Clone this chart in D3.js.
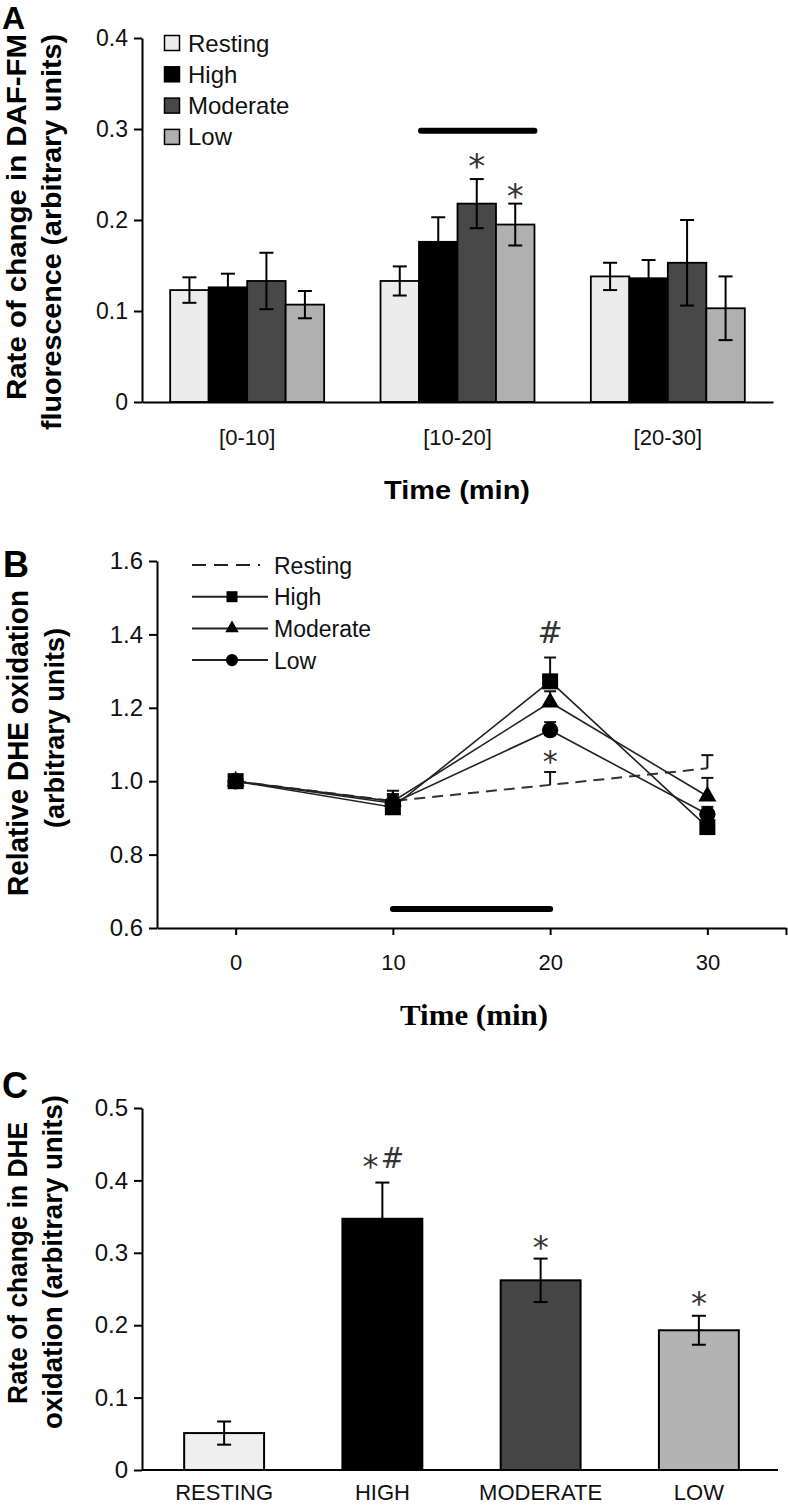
<!DOCTYPE html>
<html><head><meta charset="utf-8">
<script src="https://cdn.jsdelivr.net/npm/d3@7"></script>
<style>
html,body{margin:0;padding:0;background:#fff;}
svg{display:block;}
</style></head>
<body>
<script>
// ---------- DATA ----------
const seriesNames = ["Resting","High","Moderate","Low"];
// Panel A
const groupsA = ["[0-10]","[10-20]","[20-30]"];
const restingA = [0.123, 0.133, 0.138];
const highA = [0.126, 0.176, 0.136];
const moderateA = [0.133, 0.218, 0.153];
const lowA = [0.107, 0.195, 0.103];
const errRestingA = [0.014, 0.016, 0.015];
const errHighA = [0.015, 0.027, 0.020];
const errModerateA = [0.031, 0.027, 0.047];
const errLowA = [0.015, 0.023, 0.035];
const ticksA = [0, 0.1, 0.2, 0.3, 0.4];
const starsA = [{group:"[10-20]", series:"Moderate", label:"*", y:0.269},
                {group:"[10-20]", series:"Low", label:"*", y:0.236}];
const sigBarA = {group:"[10-20]", from:"High", to:"Low", y:0.298};
// Panel B
const timesB = [0, 10, 20, 30];
const restingB = [1.0, 0.946, 0.99, 1.035];
const highB = [1.0, 0.929, 1.272, 0.875];
const moderateB = [1.0, 0.945, 1.215, 0.959];
const lowB = [1.0, 0.940, 1.139, 0.910];
const errRestingB = [0, 0.028, 0.035, 0.036];
const errHighB = [0, 0.02, 0.065, 0.02];
const errModerateB = [0, 0.02, 0.03, 0.05];
const errLowB = [0, 0.02, 0.022, 0.02];
const ticksBy = [0.6, 0.8, 1.0, 1.2, 1.4, 1.6];
const ticksBx = [0, 10, 20, 30, 35];
const annotB = [{t:20, label:"#", y:1.406}, {t:20, label:"*", y:1.074}];
const sigBarB = {from:10, to:20, y:0.652};
// Panel C
const catsC = ["RESTING","HIGH","MODERATE","LOW"];
const valuesC = [0.051, 0.347, 0.262, 0.193];
const errC = [0.016, 0.050, 0.030, 0.020];
const ticksC = [0, 0.1, 0.2, 0.3, 0.4, 0.5];
const annotC = [{cat:"HIGH", label:"*", dx:-12, y:0.431},{cat:"HIGH", label:"#", dx:10, y:0.431},
                {cat:"MODERATE", label:"*", dx:0, y:0.32},{cat:"LOW", label:"*", dx:0, y:0.242}];

// ---------- STYLE ----------
const SANS = "'Liberation Sans', Arial, sans-serif";
const SERIF = "'Liberation Serif', 'Times New Roman', serif";
const SYM = "'DejaVu Sans', sans-serif";
const colA = {Resting:"#ececec", High:"#000000", Moderate:"#484848", Low:"#b0b0b0"};
const colC = {RESTING:"#efefef", HIGH:"#000000", MODERATE:"#454545", LOW:"#b3b3b3"};

const svg = d3.select("body").append("svg").attr("width",788).attr("height",1505);
svg.append("rect").attr("width",788).attr("height",1505).attr("fill","#fff");

function styleAxis(g, fs, sx){
  g.selectAll("path,line").attr("stroke","#000").attr("stroke-width",2);
  g.selectAll("text").attr("font-size",fs).attr("font-family",SANS).attr("fill","#111");
}
function vTitle(x, y, txt, fs, len, fam){
  svg.append("text").attr("transform",`translate(${x},${y}) rotate(-90)`)
    .attr("text-anchor","middle").attr("font-family",fam||SANS).attr("font-weight","bold")
    .attr("font-size",fs).attr("textLength",len).attr("lengthAdjust","spacingAndGlyphs")
    .attr("fill","#000").text(txt);
}
// symbol placement: y value is visual centre
function symText(x, yc, label, fs){
  const off = label==="*" ? 0.6*fs : 0.36*fs;
  svg.append("text").attr("x",x).attr("y",yc+off).attr("text-anchor","middle")
    .attr("font-family",SYM).attr("font-size",fs).attr("fill","#333").text(label);
}

// ================= PANEL A =================
const yA = d3.scaleLinear().domain([0,0.4]).range([402,38]);
const xA = d3.scaleBand().domain(groupsA).range([142,773]).paddingInner(0.268).paddingOuter(0.134);
const xAin = d3.scaleBand().domain(seriesNames).range([0,xA.bandwidth()]);
const valsA = {Resting:restingA, High:highA, Moderate:moderateA, Low:lowA};
const errsA = {Resting:errRestingA, High:errHighA, Moderate:errModerateA, Low:errLowA};
const dataA = [];
groupsA.forEach((g,i)=>seriesNames.forEach(s=>dataA.push({g, s, v:valsA[s][i], e:errsA[s][i]})));

const gA = svg.append("g");
gA.selectAll("rect.bar").data(dataA).join("rect")
  .attr("x",d=>xA(d.g)+xAin(d.s)).attr("y",d=>yA(d.v))
  .attr("width",xAin.bandwidth()).attr("height",d=>yA(0)-yA(d.v))
  .attr("fill",d=>colA[d.s]).attr("stroke","#000").attr("stroke-width",1.8);
const cxA = d=>xA(d.g)+xAin(d.s)+xAin.bandwidth()/2;
const ebA = gA.selectAll("g.eb").data(dataA).join("g");
ebA.append("line").attr("x1",cxA).attr("x2",cxA).attr("y1",d=>yA(d.v-d.e)).attr("y2",d=>yA(d.v+d.e));
ebA.append("line").attr("x1",d=>cxA(d)-7).attr("x2",d=>cxA(d)+7).attr("y1",d=>yA(d.v+d.e)).attr("y2",d=>yA(d.v+d.e));
ebA.append("line").attr("x1",d=>cxA(d)-7).attr("x2",d=>cxA(d)+7).attr("y1",d=>yA(d.v-d.e)).attr("y2",d=>yA(d.v-d.e));
ebA.selectAll("line").attr("stroke","#000").attr("stroke-width",2);

gA.append("line").attr("x1",xA(sigBarA.group)+xAin(sigBarA.from)+2).attr("x2",xA(sigBarA.group)+xAin(sigBarA.to)+xAin.bandwidth())
  .attr("y1",yA(sigBarA.y)).attr("y2",yA(sigBarA.y)).attr("stroke","#000").attr("stroke-width",6).attr("stroke-linecap","round");
starsA.forEach(a=>symText(xA(a.group)+xAin(a.series)+xAin.bandwidth()/2, yA(a.y), a.label, 34));

const axAy = svg.append("g").attr("transform","translate(142,0)")
  .call(d3.axisLeft(yA).tickValues(ticksA).tickFormat(d=>d===0?"0":d3.format(".1f")(d)).tickSize(8).tickSizeOuter(0).tickPadding(6));
styleAxis(axAy, 23);
const axAx = svg.append("g").attr("transform","translate(0,402)")
  .call(d3.axisBottom(xA).tickSize(0).tickSizeOuter(0).tickPadding(27));
styleAxis(axAx, 22);

const legA = svg.append("g");
seriesNames.forEach((s,i)=>{
  const cy = 43 + i*31.3;
  legA.append("rect").attr("x",164.5).attr("y",cy-7.5).attr("width",15).attr("height",15)
    .attr("fill",colA[s]).attr("stroke","#000").attr("stroke-width",1.5);
  legA.append("text").attr("x",188).attr("y",cy+8.5).attr("font-family",SANS).attr("font-size",24).attr("fill","#111").text(s);
});
svg.append("text").attr("x",457).attr("y",499).attr("text-anchor","middle").attr("font-family",SANS)
  .attr("font-weight","bold").attr("font-size",26).attr("textLength",146).attr("lengthAdjust","spacingAndGlyphs").text("Time (min)");
vTitle(26, 217, "Rate of change in DAF-FM", 28, 366);
vTitle(61, 232, "fluorescence (arbitrary units)", 28, 396);
svg.append("text").attr("x",2).attr("y",29).attr("font-family",SANS).attr("font-weight","bold").attr("font-size",32).text("A");

// ================= PANEL B =================
const xB = d3.scaleLinear().domain([-5,35]).range([157,786]);
const yB = d3.scaleLinear().domain([0.6,1.6]).range([928,561]);
const seriesB = [
  {name:"Resting", v:restingB, e:errRestingB, dash:true},
  {name:"High", v:highB, e:errHighB, sym:d3.symbolSquare, size:256, lsize:121},
  {name:"Moderate", v:moderateB, e:errModerateB, sym:d3.symbolTriangle, size:140, lsize:80},
  {name:"Low", v:lowB, e:errLowB, sym:d3.symbolCircle, size:210, lsize:115}
];
const lineB = d3.line().x(d=>xB(d[0])).y(d=>yB(d[1]));
const gB = svg.append("g");
gB.append("line").attr("x1",xB(sigBarB.from)).attr("x2",xB(sigBarB.to)).attr("y1",yB(sigBarB.y)).attr("y2",yB(sigBarB.y))
  .attr("stroke","#000").attr("stroke-width",6).attr("stroke-linecap","round");
seriesB.forEach(s=>{
  const pts = timesB.map((t,i)=>[t,s.v[i]]);
  gB.append("path").attr("d",lineB(pts)).attr("fill","none")
    .attr("stroke",s.dash?"#333":"#222").attr("stroke-width",s.dash?2:1.6)
    .attr("stroke-dasharray",s.dash?"11,7":null);
});
seriesB.forEach(s=>{
  timesB.forEach((t,i)=>{
    if(!s.e[i]) return;
    const x = xB(t), y0 = yB(s.v[i]), y1 = yB(s.v[i]+s.e[i]);
    gB.append("line").attr("x1",x).attr("x2",x).attr("y1",y0).attr("y2",y1).attr("stroke","#111").attr("stroke-width",2);
    gB.append("line").attr("x1",x-6).attr("x2",x+6).attr("y1",y1).attr("y2",y1).attr("stroke","#111").attr("stroke-width",2);
  });
});
[seriesB[3], seriesB[2], seriesB[1]].forEach(s=>{
  gB.selectAll(null).data(timesB.map((t,i)=>[t,s.v[i]])).join("path")
    .attr("d",d3.symbol().type(s.sym).size(s.size)())
    .attr("transform",d=>`translate(${xB(d[0])},${yB(d[1])})`).attr("fill","#000");
});
annotB.forEach(a=>symText(xB(a.t), yB(a.y), a.label, 30));

const axBy = svg.append("g").attr("transform","translate(157,0)")
  .call(d3.axisLeft(yB).tickValues(ticksBy).tickFormat(d3.format(".1f")).tickSize(8).tickSizeOuter(0).tickPadding(6));
styleAxis(axBy, 24);
const axBx = svg.append("g").attr("transform","translate(0,928)")
  .call(d3.axisBottom(xB).tickValues(ticksBx).tickFormat(d=>d===35?"":d).tickSize(7).tickSizeOuter(0).tickPadding(19));
styleAxis(axBx, 22);
const legB = svg.append("g");
seriesB.forEach((s,i)=>{
  const cy = 565 + i*31.7;
  legB.append("line").attr("x1",192).attr("x2",s.dash?260:268).attr("y1",cy).attr("y2",cy)
    .attr("stroke","#222").attr("stroke-width",2).attr("stroke-dasharray",s.dash?"14,8":null);
  if(s.sym) legB.append("path").attr("d",d3.symbol().type(s.sym).size(s.lsize)()).attr("transform",`translate(232,${cy})`).attr("fill","#000");
  legB.append("text").attr("x",274).attr("y",cy+8.5).attr("font-family",SANS).attr("font-size",23).attr("fill","#111").text(s.name);
});
svg.append("text").attr("x",474).attr("y",1025).attr("text-anchor","middle").attr("font-family",SERIF)
  .attr("font-weight","bold").attr("font-size",30).attr("textLength",148).attr("lengthAdjust","spacingAndGlyphs").text("Time (min)");
vTitle(28, 743, "Relative DHE oxidation", 29, 306);
vTitle(64, 728, "(arbitrary units)", 28, 200);
svg.append("text").attr("x",3).attr("y",577).attr("font-family",SANS).attr("font-weight","bold").attr("font-size",36).text("B");

// ================= PANEL C =================
const yC = d3.scaleLinear().domain([0,0.5]).range([1470,1108]);
const xC = d3.scaleBand().domain(catsC).range([145,778]).paddingInner(0.495).paddingOuter(0.2475);
const dataC = catsC.map((c,i)=>({c, v:valuesC[i], e:errC[i]}));
const gC = svg.append("g");
gC.selectAll("rect").data(dataC).join("rect")
  .attr("x",d=>xC(d.c)).attr("y",d=>yC(d.v)).attr("width",xC.bandwidth()).attr("height",d=>yC(0)-yC(d.v))
  .attr("fill",d=>colC[d.c]).attr("stroke","#000").attr("stroke-width",2);
const ebC = gC.selectAll("g.eb").data(dataC).join("g");
const cx = d=>xC(d.c)+xC.bandwidth()/2;
ebC.append("line").attr("x1",cx).attr("x2",cx).attr("y1",d=>yC(d.v-d.e)).attr("y2",d=>yC(d.v+d.e));
ebC.append("line").attr("x1",d=>cx(d)-7).attr("x2",d=>cx(d)+7).attr("y1",d=>yC(d.v+d.e)).attr("y2",d=>yC(d.v+d.e));
ebC.append("line").attr("x1",d=>cx(d)-7).attr("x2",d=>cx(d)+7).attr("y1",d=>yC(d.v-d.e)).attr("y2",d=>yC(d.v-d.e));
ebC.selectAll("line").attr("stroke","#000").attr("stroke-width",2);
annotC.forEach(a=>symText(xC(a.cat)+xC.bandwidth()/2+a.dx, yC(a.y), a.label, a.label==="#"?28:32));

const axCy = svg.append("g").attr("transform","translate(142,0)")
  .call(d3.axisLeft(yC).tickValues(ticksC).tickFormat(d=>d===0?"0":d3.format(".1f")(d)).tickSize(8).tickSizeOuter(0).tickPadding(6));
styleAxis(axCy, 24);
const axCx = svg.append("g").attr("transform","translate(0,1470)")
  .call(d3.axisBottom(xC).tickSize(0).tickSizeOuter(0).tickPadding(14));
axCx.select(".domain").attr("d","M142,0H778");
styleAxis(axCx, 22);
vTitle(27, 1263, "Rate of change in DHE", 27, 282);
vTitle(62, 1262, "oxidation (arbitrary units)", 27, 334);
svg.append("text").attr("x",2).attr("y",1098).attr("font-family",SANS).attr("font-weight","bold").attr("font-size",36).text("C");
</script>
</body></html>
